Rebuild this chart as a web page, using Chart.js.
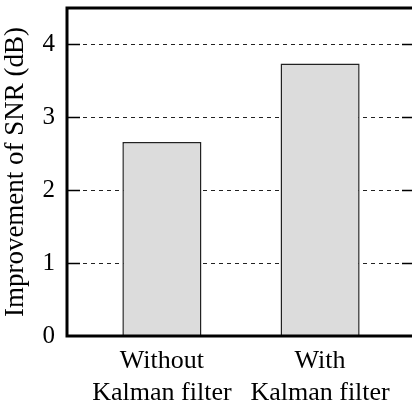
<!DOCTYPE html>
<html>
<head>
<meta charset="utf-8">
<script src="https://cdn.jsdelivr.net/npm/chart.js@4"></script>
<style>
  html, body { margin: 0; padding: 0; background: #fff; overflow: hidden; }
  #wrap { width: 412px; height: 400px; overflow: hidden; }
</style>
</head>
<body>
<div id="wrap"><canvas id="myChart" width="420" height="400"></canvas></div>
<script>
const categories = [
  ['Without', 'Kalman filter'],
  ['With', 'Kalman filter']
];
const xPositions = [0, 1];
const snrGain = [2.66, 3.74];
const yTicks = [0, 1, 2, 3, 4];

const ctx = document.getElementById('myChart').getContext('2d');
const serif = 'Liberation Serif, Times New Roman, serif';

// frame + inward tick marks (like the original figure)
const frame = {
  id: 'frame',
  afterDraw(chart) {
    const { ctx, chartArea: a, scales } = chart;
    ctx.save();
    ctx.strokeStyle = '#000';
    ctx.lineWidth = 1.5;
    yTicks.forEach(v => {
      if (v === 0) return;
      const y = Math.round(scales.y.getPixelForValue(v)) + 0.5;
      ctx.beginPath();
      ctx.moveTo(a.left, y); ctx.lineTo(a.left + 13, y);
      ctx.moveTo(a.right - 13, y); ctx.lineTo(a.right, y);
      ctx.stroke();
    });
    ctx.lineWidth = 3;
    ctx.strokeRect(a.left, a.top, a.right - a.left, a.bottom - a.top);
    ctx.restore();
  }
};

const data = {
  datasets: [{
    data: xPositions.map((x, i) => ({ x: x, y: snrGain[i] })),
    backgroundColor: '#dcdcdc',
    borderColor: '#222',
    borderWidth: 1.5,
    barPercentage: 0.5,
    categoryPercentage: 1
  }]
};

const config = {
  type: 'bar',
  data,
  plugins: [frame],
  options: {
    responsive: false,
    animation: false,
    layout: { padding: { top: 8, right: 5, left: 0, bottom: 0 } },
    plugins: { legend: { display: false }, tooltip: { enabled: false } },
    scales: {
      x: {
        type: 'linear',
        offset: false,
        min: -0.6,
        max: 1.6,
        afterBuildTicks: s => { s.ticks = xPositions.map(v => ({ value: v })); },
        afterFit: s => { s.height = 64; s.paddingLeft = 0; s.paddingRight = 0; },
        grid: { display: false },
        border: { display: false },
        ticks: {
          color: '#000',
          padding: 2,
          maxRotation: 0,
          font: { family: serif, size: 26 },
          callback: v => categories[xPositions.indexOf(v)]
        }
      },
      y: {
        min: 0,
        max: 4.5,
        afterBuildTicks: s => { s.ticks = yTicks.map(v => ({ value: v })); },
        afterFit: s => { s.width = 67; s.paddingTop = 0; s.paddingBottom = 0; },
        grid: { color: '#222', lineWidth: 1, drawTicks: false },
        border: { display: false, dash: [4, 4] },
        ticks: {
          color: '#000',
          padding: 12,
          font: { family: serif, size: 25 }
        },
        title: {
          display: true,
          text: 'Improvement of SNR (dB)',
          color: '#000',
          padding: 0,
          font: { family: serif, size: 27 }
        }
      }
    }
  }
};

const myChart = new Chart(ctx, config);
</script>
</body>
</html>
